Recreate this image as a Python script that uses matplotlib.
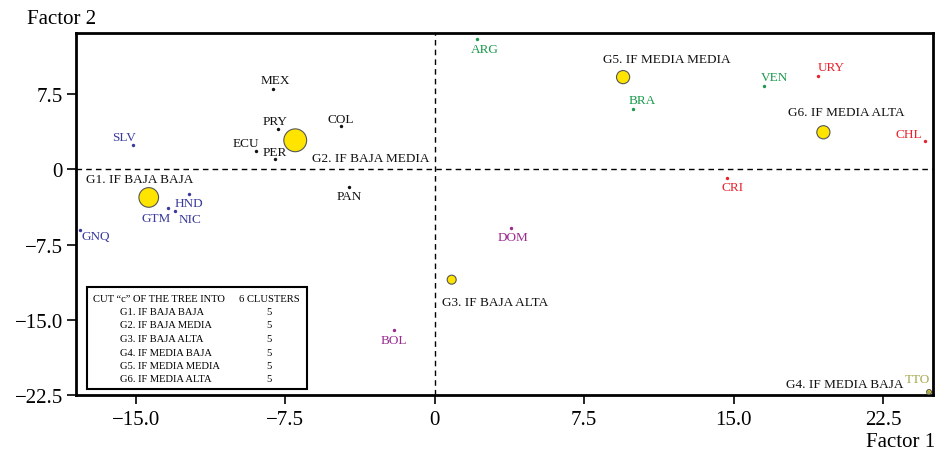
import matplotlib
matplotlib.use("Agg")
import matplotlib.pyplot as plt
from matplotlib.patches import Rectangle

plt.rcParams['font.family'] = ['Liberation Serif', 'DejaVu Serif']

# country coordinates on the two factors
countries = ['MEX', 'PRY', 'COL', 'ECU', 'PER', 'PAN',
             'SLV', 'HND', 'GTM', 'NIC', 'GNQ',
             'ARG', 'BRA', 'VEN',
             'URY', 'CHL', 'CRI',
             'DOM', 'BOL', 'TTO']
factor1 = [-8.1, -7.85, -4.7, -8.95, -8.0, -4.3,
           -15.15, -12.35, -13.4, -13.05, -17.8,
           2.1, 9.95, 16.5,
           19.25, 24.6, 14.65,
           3.85, -2.05, 24.75]
factor2 = [8.0, 4.0, 4.3, 1.8, 1.0, -1.8,
           2.4, -2.5, -3.9, -4.2, -6.0,
           13.0, 6.0, 8.3,
           9.3, 2.8, -0.9,
           -5.8, -16.0, -22.2]
country_group = ['G2', 'G2', 'G2', 'G2', 'G2', 'G2',
                 'G1', 'G1', 'G1', 'G1', 'G1',
                 'G5', 'G5', 'G5',
                 'G6', 'G6', 'G6',
                 'G3', 'G3', 'G4']

# cluster centres
groups = ['G1', 'G2', 'G3', 'G4', 'G5', 'G6']
group_names = ['G1. IF BAJA BAJA', 'G2. IF BAJA MEDIA', 'G3. IF BAJA ALTA',
               'G4. IF MEDIA BAJA', 'G5. IF MEDIA MEDIA', 'G6. IF MEDIA ALTA']
group_f1 = [-14.35, -7.0, 0.85, 24.8, 9.45, 19.5]
group_f2 = [-2.8, 2.9, -11.0, -22.2, 9.2, 3.7]
group_counts = [5, 5, 5, 5, 5, 5]

xticks = [-15.0, -7.5, 0, 7.5, 15.0, 22.5]
xticklabels = ['\u221215.0', '\u22127.5', '0', '7.5', '15.0', '22.5']
yticks = [-22.5, -15.0, -7.5, 0, 7.5]
yticklabels = ['\u221222.5', '\u221215.0', '\u22127.5', '0', '7.5']

# styling
group_colors = {'G1': '#3a3a9c', 'G2': '#111111', 'G3': '#9a2a8e',
                'G4': '#a8a850', 'G5': '#1b9a4c', 'G6': '#e8222c'}
group_sizes = [200, 270, 42, 12, 90, 90]
# label offsets (points) from the country dot: text centre
label_off = {'MEX': (1.4, 6.5), 'PRY': (-2.2, 5.8), 'COL': (0, 5.4),
             'ECU': (-7.9, 5.8), 'PER': (-0.7, 5.0), 'PAN': (0, -6.5),
             'SLV': (-6.5, 5.8), 'HND': (0.5, -5.8), 'GTM': (-8.6, -7.2),
             'NIC': (11.2, -5.3), 'GNQ': (11.3, -4.3), 'ARG': (5.8, -6.9),
             'BRA': (6.5, 6.5), 'VEN': (7.7, 6.3), 'URY': (9.1, 6.3),
             'CHL': (-11.8, 5.3), 'CRI': (4.3, -6.5), 'DOM': (1.4, -6.5),
             'BOL': (0, -7.2), 'TTO': (-7.6, 9.6)}
# cluster label offsets (points), alignment
group_label_off = [(-45.4, 13.2, 'left'), (11.8, -13.0, 'left'),
                   (-6.9, -15.8, 'left'), (-18.7, 5.5, 'right'),
                   (-14.2, 13.0, 'left'), (-25.2, 14.6, 'left')]

fig = plt.figure(figsize=(9.38, 4.56), dpi=100)
ax = fig.add_axes([76 / 938, 1 - 396 / 456, 857 / 938, 362 / 456])
ax.set_xlim(-18, 25)
ax.set_ylim(-22.5, 13.6)

ax.axhline(0, color='black', lw=1, ls=(0, (4, 3)), zorder=1)
ax.axvline(0, color='black', lw=1, ls=(0, (4, 3)), zorder=1)

# cluster centres
ax.scatter(group_f1, group_f2, s=group_sizes, color='#ffe400',
           edgecolor='#555555', linewidth=0.8, zorder=3)
for i, name in enumerate(group_names):
    dx, dy, ha = group_label_off[i]
    ax.annotate(name, (group_f1[i], group_f2[i]), xytext=(dx, dy),
                textcoords='offset points', ha=ha, va='center',
                fontsize=9.5, color='#111111', zorder=4)

# countries
for i, c in enumerate(countries):
    col = group_colors[country_group[i]]
    ax.scatter(factor1[i], factor2[i], s=6, color=col, zorder=4, linewidth=0)
    dx, dy = label_off[c]
    ax.annotate(c, (factor1[i], factor2[i]), xytext=(dx, dy),
                textcoords='offset points', ha='center', va='center',
                fontsize=9.5, color=col, zorder=4)

# ticks and frame
ax.set_xticks(xticks)
ax.set_xticklabels(xticklabels)
ax.set_yticks(yticks)
ax.set_yticklabels(yticklabels)
ax.tick_params(direction='out', length=6.5, width=1.2, labelsize=15, pad=3)
ax.tick_params(axis='x', pad=4)
for sp in ax.spines.values():
    sp.set_linewidth(2)

fig.text(27 / 938, 1 - 20 / 456, 'Factor 2', fontsize=15, va='center', ha='left')
fig.text(935 / 938, 1 - 443 / 456, 'Factor 1', fontsize=15, va='center', ha='right')

# summary box
bx0, bx1 = (86.7 - 76) / 857, (306.7 - 76) / 857
by0, by1 = (396 - 390) / 362, (396 - 287.7) / 362
ax.add_patch(Rectangle((bx0, by0), bx1 - bx0, by1 - by0, transform=ax.transAxes,
                       facecolor='white', edgecolor='black', lw=1.5, zorder=5))
row_y = [(396 - y) / 362 for y in [299, 312.7, 326, 339.7, 353, 366.3, 380]]
ax.text((93.3 - 76) / 857, row_y[0], 'CUT \u201cc\u201d OF THE TREE INTO',
        transform=ax.transAxes, fontsize=7.6, va='center', ha='left', zorder=6)
ax.text((299.3 - 76) / 857, row_y[0], '6 CLUSTERS',
        transform=ax.transAxes, fontsize=7.6, va='center', ha='right', zorder=6)
for i, name in enumerate(group_names):
    ax.text((120 - 76) / 857, row_y[i + 1], name, transform=ax.transAxes,
            fontsize=7.6, va='center', ha='left', zorder=6)
    ax.text((269.3 - 76) / 857, row_y[i + 1], str(group_counts[i]),
            transform=ax.transAxes, fontsize=7.6, va='center', ha='center', zorder=6)

fig.savefig('out.png', dpi=100)
